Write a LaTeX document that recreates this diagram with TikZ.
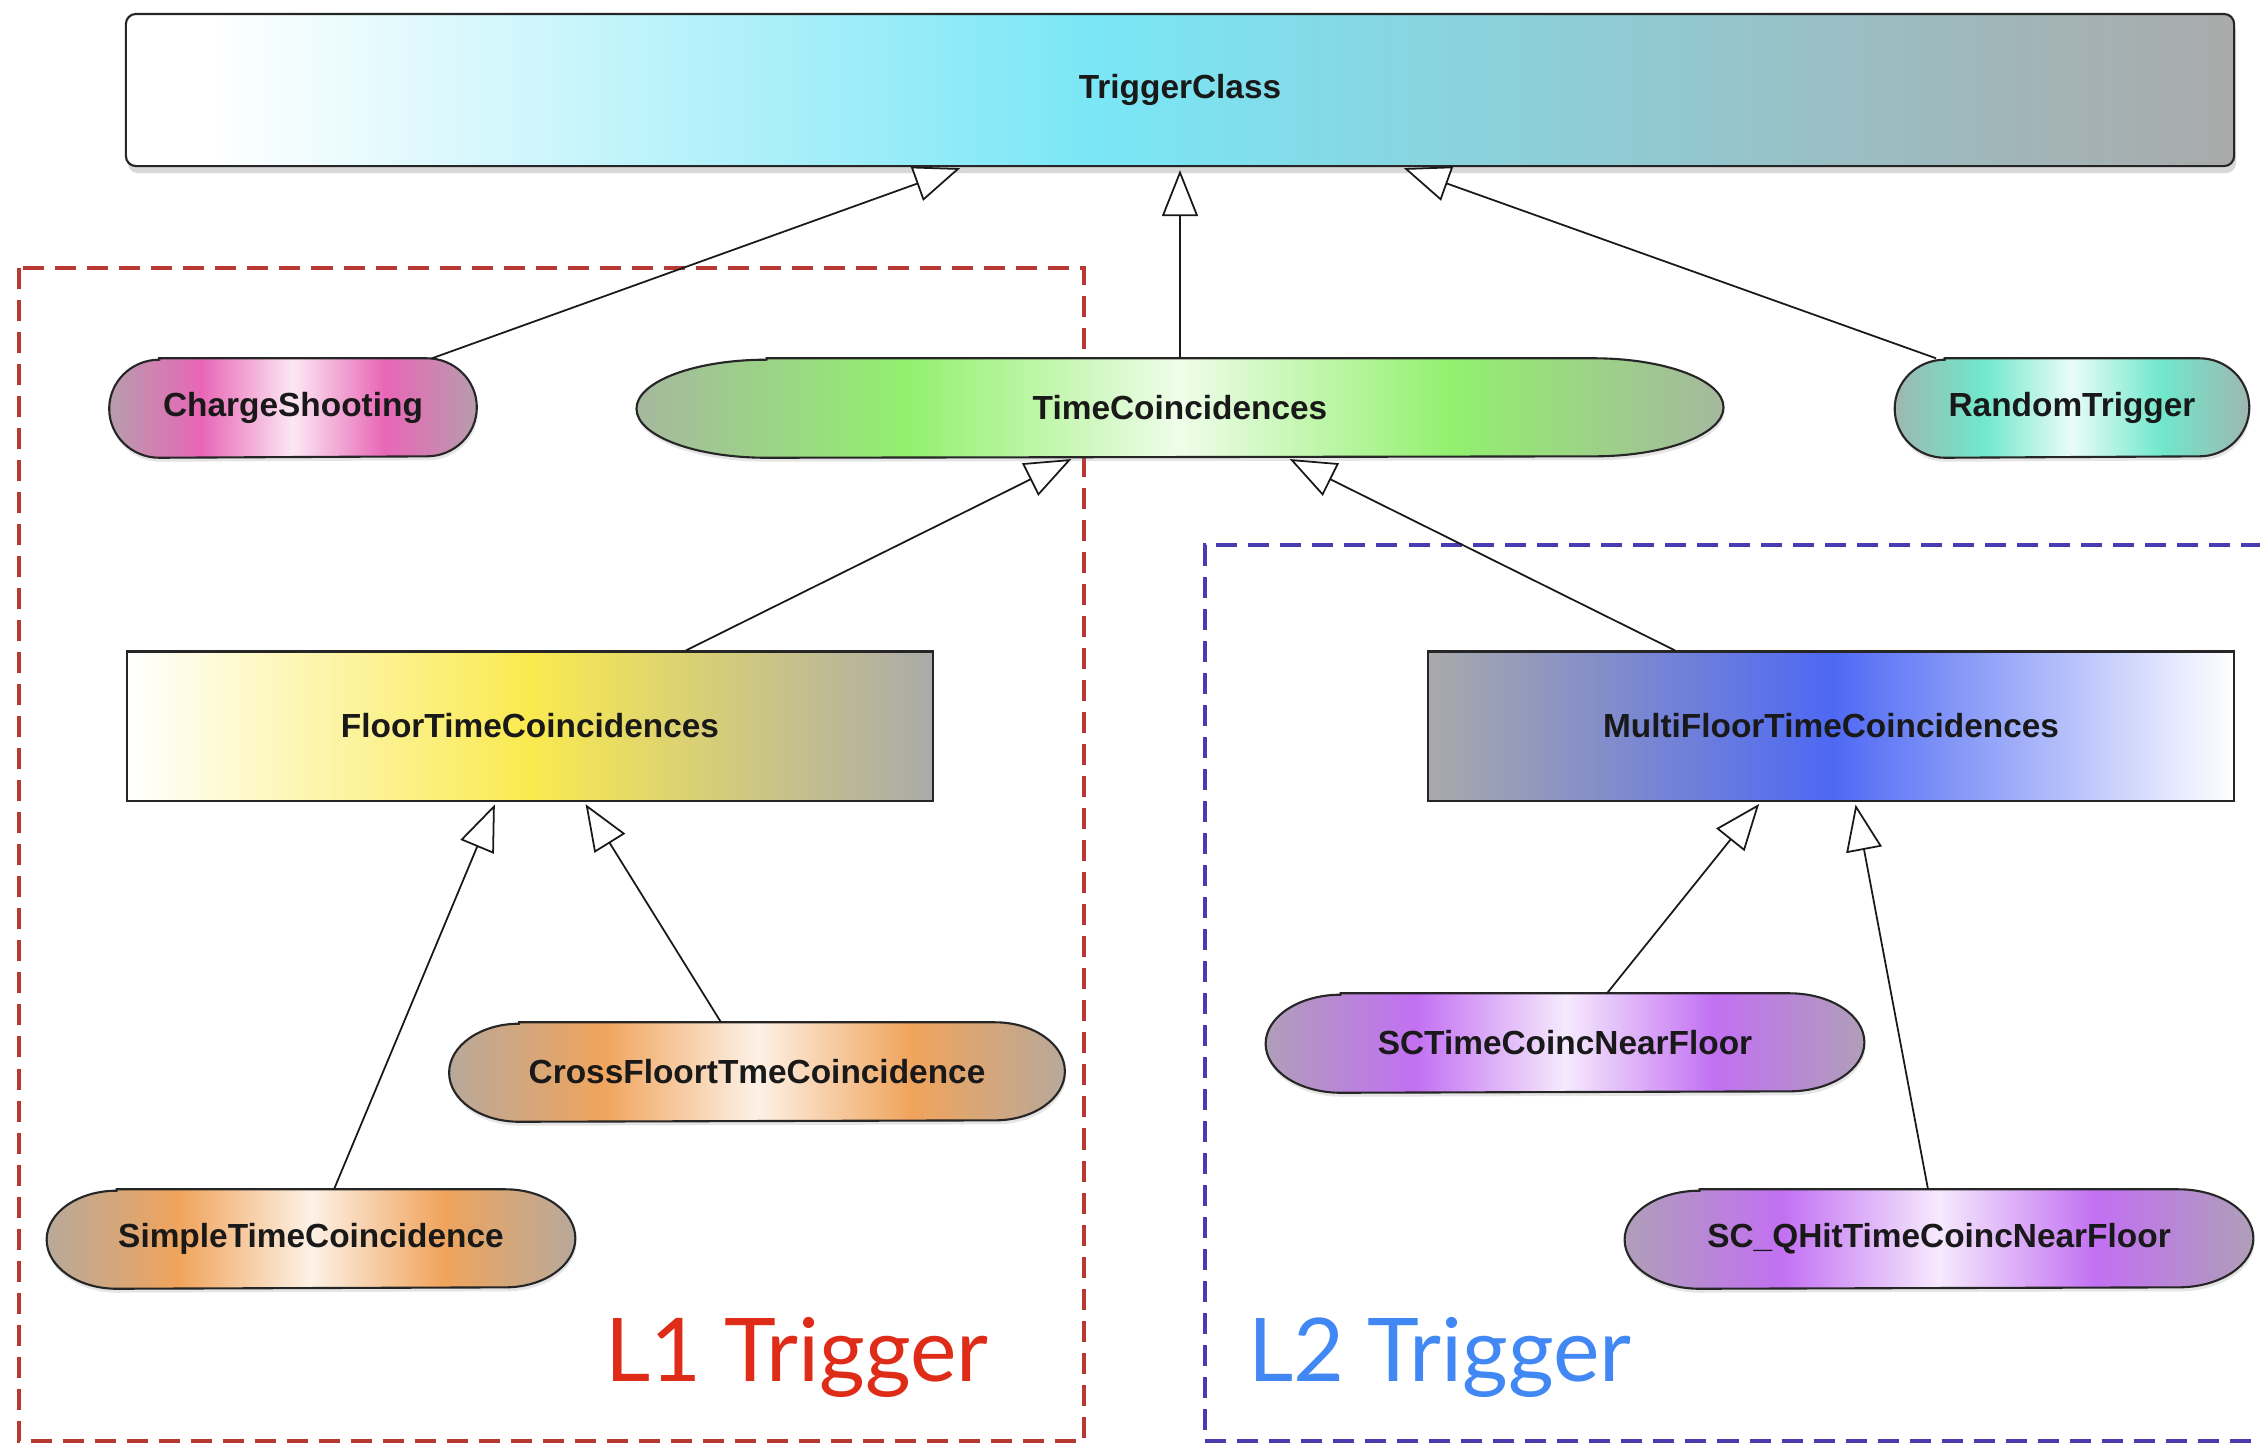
\documentclass[tikz,border=0pt]{standalone}
\usepackage{fontspec}
\setmainfont{Liberation Sans}
\newfontfamily\tagfont{Lato}
\usetikzlibrary{arrows.meta,calc,backgrounds,shadows}
\definecolor{trigcyan}{RGB}{122,230,246}
\definecolor{trigyellow}{RGB}{250,234,80}
\definecolor{trigblue}{RGB}{78,104,244}
\definecolor{trigsilver}{RGB}{170,170,170}
\definecolor{pillgreen}{RGB}{146,240,110}
\definecolor{pillpink}{RGB}{232,102,182}
\definecolor{pillteal}{RGB}{112,232,204}
\definecolor{pillorange}{RGB}{240,164,92}
\definecolor{pillviolet}{RGB}{194,112,242}
\definecolor{lonered}{RGB}{184,56,50}
\definecolor{ltwoblue}{RGB}{72,60,176}
\definecolor{lonetext}{RGB}{222,44,24}
\definecolor{ltwotext}{RGB}{66,136,244}
\pgfdeclarehorizontalshading{triggershade}{100bp}{color(0bp)=(white); color(27bp)=(white); color(48bp)=(trigcyan); color(75bp)=(trigsilver); color(100bp)=(trigsilver)}
\pgfdeclarehorizontalshading{floorshade}{100bp}{color(0bp)=(white); color(25bp)=(white); color(50bp)=(trigyellow); color(75bp)=(trigsilver); color(100bp)=(trigsilver)}
\pgfdeclarehorizontalshading{multishade}{100bp}{color(0bp)=(trigsilver); color(25bp)=(trigsilver); color(50bp)=(trigblue); color(75bp)=(white); color(100bp)=(white)}
\newcommand\pillshade[2]{\pgfdeclarehorizontalshading{#1}{100bp}{color(0bp)=(trigsilver!80!#2); color(25bp)=(trigsilver!80!#2); color(37.5bp)=(#2); color(50bp)=(#2!15!white); color(62.5bp)=(#2); color(75bp)=(trigsilver!80!#2); color(100bp)=(trigsilver!80!#2)}}
\pillshade{pinkpill}{pillpink}
\pillshade{greenpill}{pillgreen}
\pillshade{tealpill}{pillteal}
\pillshade{orangepill}{pillorange}
\pillshade{violetpill}{pillviolet}
% pill outline behind a text node: node, end radius, shading
\newcommand\pill[3]{\shade[shading=#3,draw=black!85,line width=0.6pt,drop shadow={opacity=0.2,shadow xshift=0.01cm,shadow yshift=-0.04cm}]
  ($(#1.north west)+(#2,0)$) -- ($(#1.north east)-(#2,0)$) arc[start angle=90,end angle=-90,x radius=#2,y radius=0.49cm]
  -- ($(#1.south west)+(#2,0)$) arc[start angle=270,end angle=90,x radius=#2,y radius=0.49cm] -- cycle;}

\begin{document}
\begin{tikzpicture}[x=0.01cm,y=-0.01cm,
  classbox/.style={draw=black!85,line width=0.6pt,font=\fontsize{9.5}{11}\selectfont\bfseries,text=black!90,inner sep=0pt},
  pilltext/.style={font=\fontsize{9.5}{11}\selectfont\bfseries,text=black!90,inner sep=0pt,minimum height=0.98cm},
  generalize/.style={-{Triangle[fill=white,length=0.46cm,width=0.36cm]},line width=0.5pt,draw=black!90,shorten >=0.03cm},
  trigtag/.style={font=\tagfont\fontsize{25}{29}\selectfont,inner sep=0pt,anchor=base west},
  levelbox/.style={dash pattern=on 0.21cm off 0.11cm,line width=1.3pt}]
\useasboundingbox (0,0) rectangle (2260,1447);
\node[classbox,rounded corners=0.1cm,shade,shading=triggershade,minimum width=21.07cm,minimum height=1.52cm,drop shadow={opacity=0.3,shadow xshift=0.02cm,shadow yshift=-0.07cm}] (trig) at (1180,90) {TriggerClass};
\node[classbox,shade,shading=floorshade,minimum width=8.06cm,minimum height=1.49cm] (floor) at (530,726) {FloorTimeCoincidences};
\node[classbox,shade,shading=multishade,minimum width=8.06cm,minimum height=1.49cm] (multi) at (1831,726) {MultiFloorTimeCoincidences};
\node[pilltext,minimum width=3.66cm] (charge) at (293,408) {ChargeShooting};
\node[pilltext,minimum width=10.85cm] (timec) at (1180,408) {TimeCoincidences};
\node[pilltext,minimum width=3.53cm] (random) at (2072,408) {RandomTrigger};
\node[pilltext,minimum width=6.14cm] (cross) at (757,1072) {CrossFloortTmeCoincidence};
\node[pilltext,minimum width=5.27cm] (simple) at (311,1239) {SimpleTimeCoincidence};
\node[pilltext,minimum width=5.97cm] (scnear) at (1565,1043) {SCTimeCoincNearFloor};
\node[pilltext,minimum width=6.27cm] (scqhit) at (1939,1239) {SC\_QHitTimeCoincNearFloor};
\node[trigtag,text=lonetext] (lone) at (605,1381) {L1 Trigger};
\node[trigtag,text=ltwotext] (ltwo) at (1248,1381) {L2 Trigger};
\begin{scope}[on background layer]
\fill[white] (0,0) rectangle (2260,1447);
\draw[levelbox,draw=lonered] (19,268) rectangle (1084,1441);
\draw[levelbox,draw=ltwoblue] (2262,545) -| (1205,1441) -- (2262,1441);
\pill{charge}{0.5cm}{pinkpill}
\pill{timec}{1.3cm}{greenpill}
\pill{random}{0.5cm}{tealpill}
\pill{cross}{0.7cm}{orangepill}
\pill{simple}{0.7cm}{orangepill}
\pill{scnear}{0.75cm}{violetpill}
\pill{scqhit}{0.75cm}{violetpill}
\end{scope}
\foreach \src/\sx/\dst/\dx in {charge/139/trig/-217,timec/0/trig/0,random/-136/trig/221,floor/156/timec/-106,multi/-156/timec/107,simple/23/floor/-34,cross/-36/floor/54,scnear/42/multi/-70,scqhit/-11/multi/24}
  \draw[generalize] ($(\src.north)+(\sx,0)$) -- ($(\dst.south)+(\dx,0)$);
\end{tikzpicture}
\end{document}
